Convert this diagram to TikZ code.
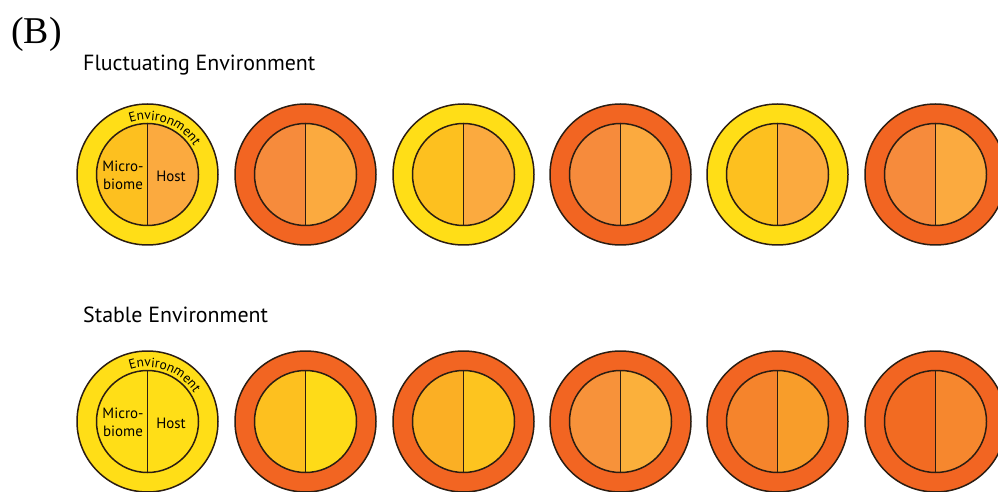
\documentclass[tikz,border=0pt]{standalone}
\usepackage{fontspec}
\setmainfont{Liberation Serif}
\setsansfont{PT Sans}
\usetikzlibrary{decorations.text}

\definecolor{envYel}{HTML}{FFDE17}
\definecolor{envOra}{HTML}{F26522}
\definecolor{micGold}{HTML}{FDC01F}
\definecolor{micPeach}{HTML}{F68B3C}
\definecolor{hostAmb}{HTML}{FBAA3F}
\definecolor{stabB}{HTML}{FEDB18}
\definecolor{stabCm}{HTML}{FBAF24}
\definecolor{stabCh}{HTML}{FDC41F}
\definecolor{stabDm}{HTML}{F7923A}
\definecolor{stabDh}{HTML}{FBB03B}
\definecolor{stabEm}{HTML}{F5842C}
\definecolor{stabEh}{HTML}{F89D2A}
\definecolor{stabFm}{HTML}{F26B22}
\definecolor{stabFh}{HTML}{F6872E}
\definecolor{rim}{HTML}{2B1D12}

\begin{document}
\begin{tikzpicture}[
  x=1bp, y=1bp,
  ring/.style={circle, draw=rim, line width=1.5pt, minimum size=141bp, inner sep=0pt},
  core/.style={circle, draw=rim, line width=1.5pt, minimum size=102bp, inner sep=0pt},
  split/.style={draw=rim, line width=1.5pt},
  head/.style={font=\sffamily\fontsize{22}{26}\selectfont, anchor=base west, inner sep=0pt},
  part/.style={font=\sffamily\fontsize{15}{18}\selectfont, align=center, inner sep=0pt},
]
\useasboundingbox (0,0) rectangle (998,-492);
\clip (0,0) rectangle (998,-492);

% six cells per row, same spacing in both rows
\def\colA{147.5}
\def\colB{305.5}
\def\colC{463.5}
\def\colD{620.5}
\def\colE{777.5}
\def\colF{935.5}
\def\rowA{-174.5}
\def\rowB{-421.5}

% #1 node-id, #2 x, #3 y, #4 environment, #5 microbiome, #6 host
\newcommand{\holobiont}[6]{%
  \node[ring, fill=#4] (#1) at (#2,#3) {};
  \fill[#5] (#2,#3) ++(90:51bp) arc[start angle=90, end angle=270, radius=51bp] -- cycle;
  \fill[#6] (#2,#3) ++(90:51bp) arc[start angle=90, end angle=-90, radius=51bp] -- cycle;
  \node[core] (#1in) at (#2,#3) {};
  \draw[split] (#1in.north) -- (#1in.south);
}

% #1 node-id, #2 x, #3 y : the labels of the first cell in a row
\newcommand{\cellnames}[3]{%
  \node[part] (#1mic) at ({#2-24.5},{#3-1}) {Micro-\\biome};
  \node[part] (#1host) at ({#2+23.5},{#3-1.5}) {Host};
  \path[decorate, decoration={text along path, text align=center,
        text={|\sffamily\fontsize{13.5}{14}\selectfont|Environment}}]
    (#2,#3) ++(150:54.5bp) arc[start angle=150, end angle=-10, radius=54.5bp];
}

\node[font=\fontsize{38}{42}\selectfont, anchor=base west, inner sep=0pt] (tag) at (11,-43.5) {(B)};
\node[head] (fluct) at (83,-71) {Fluctuating Environment};
\node[head] (stab) at (83,-323) {Stable Environment};

\holobiont{fa}{\colA}{\rowA}{envYel}{micGold}{hostAmb}
\holobiont{fb}{\colB}{\rowA}{envOra}{micPeach}{hostAmb}
\holobiont{fc}{\colC}{\rowA}{envYel}{micGold}{hostAmb}
\holobiont{fd}{\colD}{\rowA}{envOra}{micPeach}{hostAmb}
\holobiont{fe}{\colE}{\rowA}{envYel}{micGold}{hostAmb}
\holobiont{ff}{\colF}{\rowA}{envOra}{micPeach}{hostAmb}
\cellnames{fa}{\colA}{\rowA}

\holobiont{sa}{\colA}{\rowB}{envYel}{envYel}{envYel}
\holobiont{sb}{\colB}{\rowB}{envOra}{micGold}{stabB}
\holobiont{sc}{\colC}{\rowB}{envOra}{stabCm}{stabCh}
\holobiont{sd}{\colD}{\rowB}{envOra}{stabDm}{stabDh}
\holobiont{se}{\colE}{\rowB}{envOra}{stabEm}{stabEh}
\holobiont{sf}{\colF}{\rowB}{envOra}{stabFm}{stabFh}
\cellnames{sa}{\colA}{\rowB}

\end{tikzpicture}
\end{document}
